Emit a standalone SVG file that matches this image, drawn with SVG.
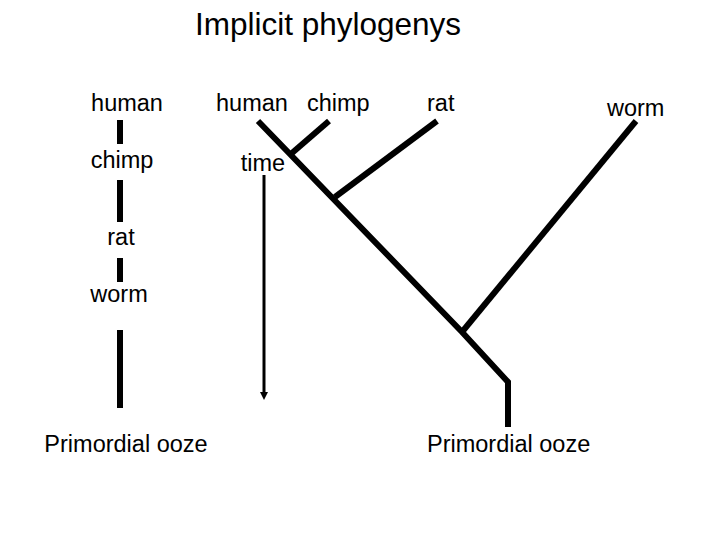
<svg xmlns="http://www.w3.org/2000/svg" width="720" height="540" viewBox="0 0 720 540">
<defs>
<style>
text{font-family:"Liberation Sans",Arial,sans-serif;font-size:23.5px;fill:#000}
.t{text-anchor:middle}
.b{stroke:#000;stroke-width:6;fill:none;stroke-linecap:butt}
.a{stroke:#000;stroke-width:3;fill:none}
</style>
<marker id="ah" markerWidth="8" markerHeight="8" refX="4" refY="4" orient="auto" markerUnits="userSpaceOnUse"><path d="M0,0 L8,4 L0,8 z" fill="#000"/></marker>
</defs>
<rect width="720" height="540" fill="#fff"/>
<text id="title" x="328" y="35" class="t" style="font-size:31.5px">Implicit phylogenys</text>
<g id="ladder">
<text x="127" y="111" class="t">human</text>
<text x="122" y="168" class="t">chimp</text>
<text x="121" y="245" class="t">rat</text>
<text x="119" y="302" class="t">worm</text>
<text x="126" y="452" class="t">Primordial ooze</text>
</g>
<g id="tree-labels">
<text x="216" y="111">human</text>
<text x="307" y="111">chimp</text>
<text x="427" y="111">rat</text>
<text x="607" y="116">worm</text>
<text x="427" y="452">Primordial ooze</text>
<text x="263" y="171" class="t">time</text>
</g>
<g id="connectors">
<line class="b" x1="120" y1="120" x2="120" y2="144"/>
<line class="b" x1="120" y1="180" x2="120" y2="222"/>
<line class="b" x1="120" y1="258" x2="120" y2="282"/>
<line class="b" x1="120" y1="330" x2="120" y2="408"/>
<polyline class="b" points="258,121 462,332 508,382 508,427"/>
<line class="b" x1="329" y1="121" x2="292" y2="153"/>
<line class="b" x1="437" y1="121" x2="335" y2="197"/>
<line class="b" x1="636" y1="121" x2="462" y2="332"/>
<line class="a" x1="264" y1="175" x2="264" y2="396" marker-end="url(#ah)"/>
</g>
</svg>
